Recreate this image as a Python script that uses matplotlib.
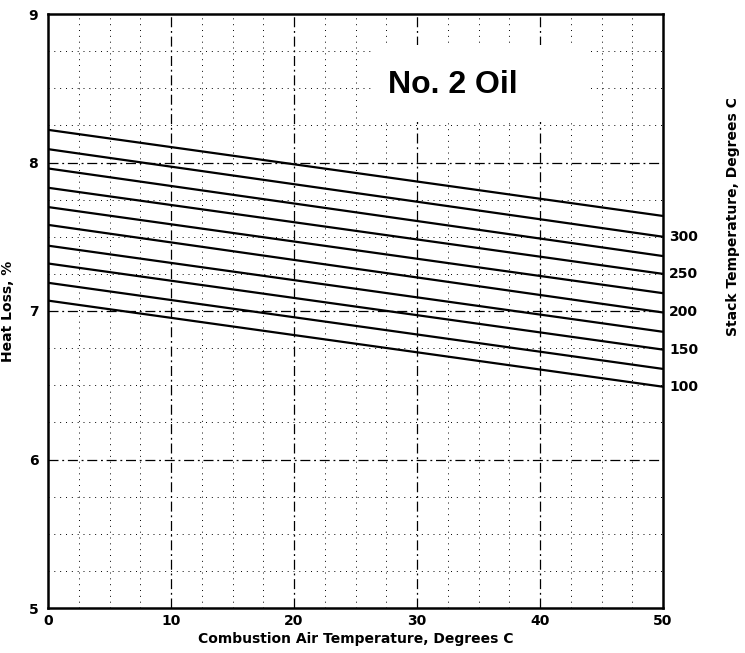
import matplotlib
matplotlib.use("Agg")
import matplotlib.pyplot as plt
from matplotlib.patches import Rectangle
import numpy as np

plt.rcParams['font.family'] = ['DejaVu Sans']

# Data
air_temp = [0, 50]
stack_temps = [325, 300, 275, 250, 225, 200, 175, 150, 125, 100]
heat_loss_at_0 = [8.22, 8.09, 7.96, 7.83, 7.70, 7.58, 7.44, 7.32, 7.19, 7.07]
heat_loss_at_50 = [7.64, 7.50, 7.37, 7.25, 7.12, 6.99, 6.86, 6.74, 6.61, 6.49]
labeled_temps = [300, 250, 200, 150, 100]
x_ticks = [0, 10, 20, 30, 40, 50]
y_ticks = [5, 6, 7, 8, 9]

fig = plt.figure(figsize=(7.45, 6.53), dpi=100)
ax = fig.add_axes([48/745, 1-608/653, (663-48)/745, (608-14)/653])

ax.set_xlim(0, 50)
ax.set_ylim(5, 9)

# grid
for xv in np.arange(2.5, 50, 2.5):
    if xv % 10 == 0:
        ax.axvline(xv, color='black', lw=0.9, ls=(0, (8, 3, 1.5, 3)), zorder=1)
    else:
        ax.axvline(xv, color='black', lw=0.7, ls=(0, (1, 5)), zorder=1)
for yv in np.arange(5.25, 9, 0.25):
    if abs(yv - round(yv)) < 1e-9:
        ax.axhline(yv, color='black', lw=0.9, ls=(0, (8, 3, 1.5, 3)), zorder=1)
    else:
        ax.axhline(yv, color='black', lw=0.7, ls=(0, (1, 5)), zorder=1)

# white box behind the title
ax.add_patch(Rectangle((26.5, 8.27), 17.6, 0.52, facecolor='white', edgecolor='none', zorder=2))

for t, a, b in zip(stack_temps, heat_loss_at_0, heat_loss_at_50):
    ax.plot(air_temp, [a, b], color='black', lw=1.6, zorder=3, solid_capstyle='butt')
    if t in labeled_temps:
        ax.text(50 + 0.5, b, str(t), ha='left', va='center', fontsize=10,
                fontweight='bold', clip_on=False)

ax.text(32.9, 8.47, 'No. 2 Oil', ha='center', va='baseline', fontsize=23,
        fontweight='bold', family='Liberation Sans', zorder=4)

ax.set_xticks(x_ticks)
ax.set_yticks(y_ticks)
ax.set_xticklabels([str(v) for v in x_ticks], fontsize=10, fontweight='bold')
ax.set_yticklabels([str(v) for v in y_ticks], fontsize=10, fontweight='bold')
ax.tick_params(axis='both', length=0)
ax.tick_params(axis='y', pad=7)
ax.tick_params(axis='x', pad=4)

for s in ax.spines.values():
    s.set_linewidth(1.8)
    s.set_zorder(5)

ax.set_xlabel('Combustion Air Temperature, Degrees C', fontsize=10, fontweight='bold', labelpad=3)
ax.set_ylabel('Heat Loss, %', fontsize=10, fontweight='bold', labelpad=10)
fig.text(733/745, 1-217/653, 'Stack Temperature, Degrees C', rotation=90, ha='center',
         va='center', fontsize=10, fontweight='bold')

fig.savefig('out.png', dpi=100)
